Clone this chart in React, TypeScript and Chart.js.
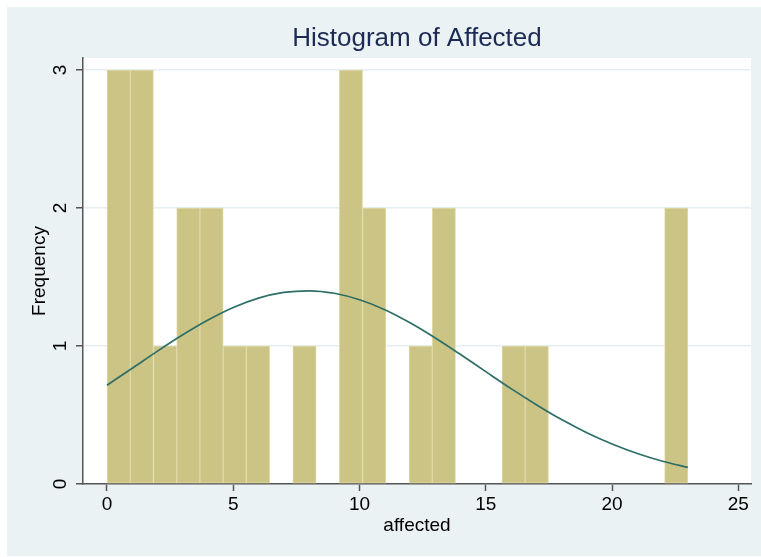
import React, { useEffect, useRef } from "react";
import { Chart, registerables } from "chart.js";

Chart.register(...registerables);

// Histogram bins (bin width 0.92, starting at 0)
const binCenters = [
  0.46, 1.38, 2.3, 3.22, 4.14, 5.06, 5.98, 6.9, 7.82, 8.74, 9.66, 10.58, 11.5,
  12.42, 13.34, 14.26, 15.18, 16.1, 17.02, 17.94, 18.86, 19.78, 20.7, 21.62, 22.54,
];
const frequencies = [
  3, 3, 1, 2, 2, 1, 1, 0, 1, 0, 3, 2, 0, 1, 2, 0, 0, 1, 1, 0, 0, 0, 0, 0, 2,
];

// Normal density overlay (frequency scale)
const curveX = [
  0, 1, 2, 3, 4, 5, 6, 7, 8, 9, 10, 11, 12, 13, 14, 15, 16, 17, 18, 19, 20, 21, 22, 23,
];
const curveY = [
  0.716, 0.839, 0.963, 1.081, 1.188, 1.279, 1.347, 1.388, 1.4, 1.382, 1.335,
  1.263, 1.168, 1.058, 0.938, 0.814, 0.691, 0.575, 0.467, 0.372, 0.29, 0.221,
  0.165, 0.121,
];

const xTicks = [0, 5, 10, 15, 20, 25];
const yTicks = [0, 1, 2, 3];

const FONT = "'Liberation Sans', Arial, Helvetica, sans-serif";

const plotBg = {
  id: "plotBg",
  beforeDraw(chart: any) {
    const { ctx, chartArea: a } = chart;
    ctx.save();
    ctx.fillStyle = "#ffffff";
    ctx.fillRect(a.left, a.top, a.right - a.left, a.bottom - a.top);
    ctx.restore();
  },
};

export default function App() {
  const ref = useRef<HTMLCanvasElement | null>(null);

  useEffect(() => {
    if (!ref.current) return;
    Chart.defaults.font.family = FONT;
    const chart = new Chart(ref.current, {
      type: "bar",
      data: {
        datasets: [
          {
            type: "line",
            data: curveX.map((x, i) => ({ x, y: curveY[i] })),
            borderColor: "#2d6e67",
            borderWidth: 1.7,
            pointRadius: 0,
            cubicInterpolationMode: "monotone",
            fill: false,
            order: 0,
          } as any,
          {
            type: "bar",
            data: binCenters.map((x, i) => ({ x, y: frequencies[i] })),
            backgroundColor: "#cbc484",
            borderColor: "#dedaa8",
            borderWidth: 1,
            borderSkipped: false,
            categoryPercentage: 1,
            barPercentage: 1,
            order: 1,
          } as any,
        ],
      },
      options: {
        responsive: false,
        animation: false,
        layout: {
          padding: { left: 0, right: 10, top: 0, bottom: 0 },
          autoPadding: false,
        } as any,
        plugins: {
          legend: { display: false },
          tooltip: { enabled: false },
          title: {
            display: true,
            text: "Histogram of Affected",
            color: "#1c2a55",
            font: { family: FONT, size: 26, weight: "normal" },
            padding: { top: 16.3, bottom: 3.5 },
            fullSize: false,
          },
        },
        scales: {
          x: {
            type: "linear",
            min: -0.95,
            max: 25.5,
            offset: false,
            grid: {
              display: true,
              drawOnChartArea: false,
              drawTicks: true,
              tickLength: 7,
              tickColor: "#555555",
              tickWidth: 1.5,
              offset: false,
            },
            border: { color: "#555555", width: 1.5 },
            ticks: {
              color: "#000000",
              font: { family: FONT, size: 19 },
              padding: 2,
              maxRotation: 0,
              autoSkip: false,
              includeBounds: false,
            },
            title: {
              display: true,
              text: "affected",
              color: "#000000",
              font: { family: FONT, size: 19 },
              padding: { top: 0, bottom: 18.6 },
            },
            afterBuildTicks: (s: any) => {
              s.ticks = xTicks.map((v) => ({ value: v }));
            },
            afterFit: (s: any) => {
              s.height = 72;
            },
          } as any,
          y: {
            type: "linear",
            min: 0,
            max: 3.087,
            grid: {
              color: "#e6eef1",
              lineWidth: 1.5,
              tickColor: "#555555",
              tickWidth: 1.5,
              tickLength: 7,
            },
            border: { color: "#555555", width: 1.5 },
            ticks: {
              color: "#000000",
              font: { family: FONT, size: 19 },
              minRotation: 90,
              maxRotation: 90,
              crossAlign: "center",
              padding: 10.3,
              includeBounds: false,
            },
            title: {
              display: true,
              text: "Frequency",
              color: "#000000",
              font: { family: FONT, size: 19 },
              padding: { top: 21, bottom: 0 },
            },
            afterBuildTicks: (s: any) => {
              s.ticks = yTicks.map((v) => ({ value: v }));
            },
            afterFit: (s: any) => {
              s.width = 76;
            },
          } as any,
        },
      },
      plugins: [plotBg],
    });
    return () => chart.destroy();
  }, []);

  return (
    <div
      style={{
        position: "absolute",
        left: 0,
        top: 0,
        width: 761,
        height: 557,
        background: "#ffffff",
      }}
    >
      <div
        style={{
          position: "absolute",
          left: 7,
          top: 7,
          width: 754,
          height: 549,
          background: "#eaf2f3",
        }}
      >
        <canvas ref={ref} width={754} height={549} style={{ display: "block" }} />
      </div>
    </div>
  );
}
